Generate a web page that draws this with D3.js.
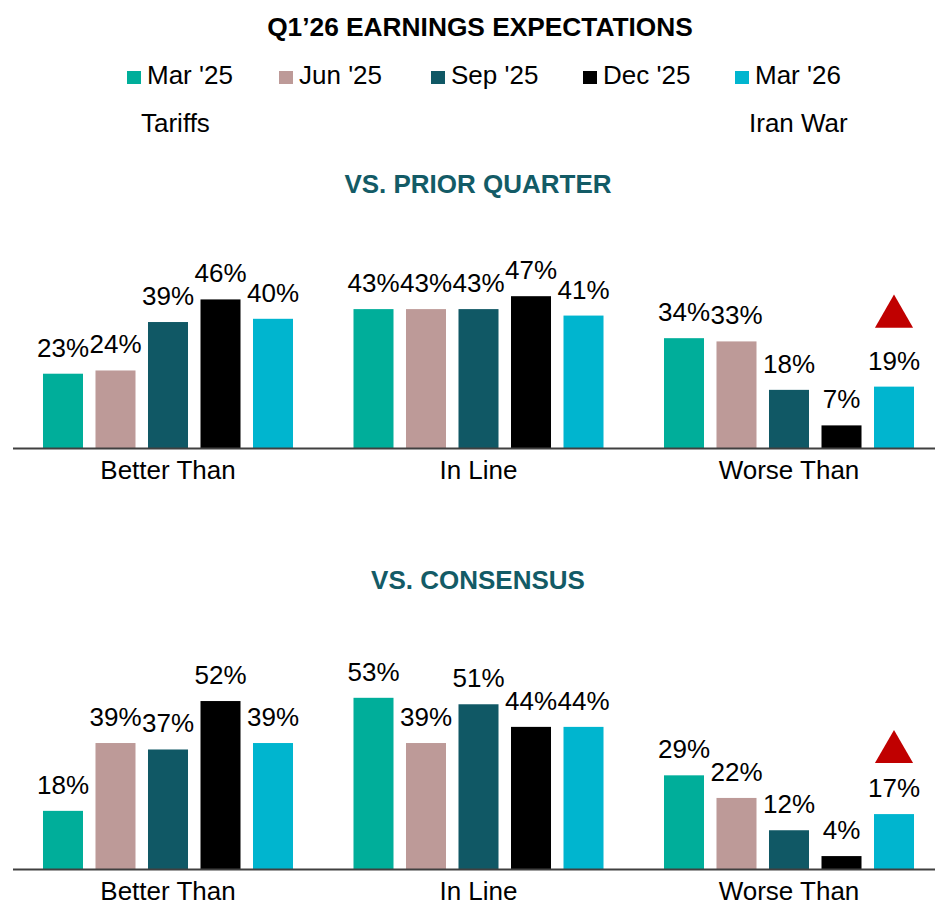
<!DOCTYPE html>
<html>
<head>
<meta charset="utf-8">
<script src="https://cdn.jsdelivr.net/npm/d3@7"></script>
<style>
  html, body { margin: 0; padding: 0; background: #fff; }
  svg text { font-family: "Liberation Sans", Arial, sans-serif; fill: #000; }
</style>
</head>
<body>
<svg id="chart" width="938" height="903"></svg>
<script>
// chart data
const categories = ['Better Than', 'In Line', 'Worse Than']
const seriesNames = ["Mar '25", "Jun '25", "Sep '25", "Dec '25", "Mar '26"]
const seriesColors = ['#00AE9A', '#BD9A98', '#105865', '#000000', '#00B5CF']

// values per series, in category order
const priorQuarter = [
    [23, 43, 34], // Mar '25
    [24, 43, 33], // Jun '25
    [39, 43, 18], // Sep '25
    [46, 47, 7],  // Dec '25
    [40, 41, 19]  // Mar '26
]
const consensus = [
    [18, 53, 29],
    [39, 39, 22],
    [37, 51, 12],
    [52, 44, 4],
    [39, 44, 17]
]

// event notes under the legend: [series index, text]
const notes = [[0, 'Tariffs'], [4, 'Iran War']]
// red arrow marks the latest Worse Than bar
const flagged = { category: 'Worse Than', series: "Mar '26" }

const svg = d3.select('#chart')
const teal = '#135B66'
const labelSize = '26px'

//title
svg.append('text')
    .attr('x', 480)
    .attr('y', 36)
    .attr('text-anchor', 'middle')
    .attr('font-size', '26.3px')
    .attr('font-weight', 'bold')
    .text('Q1\u201926 EARNINGS EXPECTATIONS')

//legend
const legendX = i => 127 + i * 152
const legend = svg.append('g').attr('class', 'legend')
const items = legend.selectAll('g')
    .data(seriesNames)
    .enter().append('g')
    .attr('transform', (d, i) => `translate(${legendX(i)}, 0)`)
items.append('rect')
    .attr('y', 71)
    .attr('width', 14)
    .attr('height', 13)
    .attr('fill', (d, i) => seriesColors[i])
items.append('text')
    .attr('x', 20)
    .attr('y', 84)
    .attr('font-size', labelSize)
    .text(d => d)

svg.selectAll('.note')
    .data(notes)
    .enter().append('text')
    .attr('class', 'note')
    .attr('x', d => legendX(d[0]) + 14)
    .attr('y', 132)
    .attr('font-size', labelSize)
    .text(d => d[1])

//shared scales
const x0 = d3.scaleBand()
    .domain(categories)
    .range([12.75, 944.25])

const x1 = d3.scaleBand()
    .domain(seriesNames)
    .range([0, x0.bandwidth()])
    .paddingInner(0.238)
    .paddingOuter(0.576)

const yScale = d3.scaleLinear()
    .domain([0, 100])
    .range([0, 323])

const drawPanel = (values, title, titleY, baseY, flagGap) => {
    const g = svg.append('g').attr('class', 'panel')

    g.append('text')
        .attr('x', 478)
        .attr('y', titleY)
        .attr('text-anchor', 'middle')
        .attr('font-size', '26px')
        .attr('font-weight', 'bold')
        .style('fill', teal)
        .text(title)

    const rows = []
    seriesNames.forEach((s, si) => {
        categories.forEach((c, ci) => {
            rows.push({ series: s, category: c, value: values[si][ci], color: seriesColors[si] })
        })
    })

    const bx = d => x0(d.category) + x1(d.series)
    const top = d => baseY - yScale(d.value)

    g.selectAll('rect')
        .data(rows)
        .enter().append('rect')
        .attr('x', bx)
        .attr('y', top)
        .attr('width', x1.bandwidth())
        .attr('height', d => yScale(d.value))
        .attr('fill', d => d.color)

    g.selectAll('.value')
        .data(rows)
        .enter().append('text')
        .attr('class', 'value')
        .attr('x', d => bx(d) + x1.bandwidth() / 2)
        .attr('y', d => top(d) - 17)
        .attr('text-anchor', 'middle')
        .attr('font-size', labelSize)
        .text(d => `${d.value}%`)

    //axis
    g.append('line')
        .attr('x1', 13)
        .attr('x2', 935)
        .attr('y1', baseY + 0.5)
        .attr('y2', baseY + 0.5)
        .attr('stroke', '#404040')
        .attr('stroke-width', 2)

    g.selectAll('.cat')
        .data(categories)
        .enter().append('text')
        .attr('class', 'cat')
        .attr('x', d => x0(d) + x0.bandwidth() / 2)
        .attr('y', baseY + 31)
        .attr('text-anchor', 'middle')
        .attr('font-size', labelSize)
        .text(d => d)

    const f = rows.find(d => d.category === flagged.category && d.series === flagged.series)
    g.append('path')
        .attr('d', d3.symbol(d3.symbolTriangle, 630)())
        .attr('transform', `translate(${bx(f) + x1.bandwidth() / 2}, ${top(f) - flagGap - 11})`)
        .attr('fill', '#C00000')
}

drawPanel(priorQuarter, 'VS. PRIOR QUARTER', 193, 448, 59)
drawPanel(consensus, 'VS. CONSENSUS', 589, 869, 51)
</script>
</body>
</html>
